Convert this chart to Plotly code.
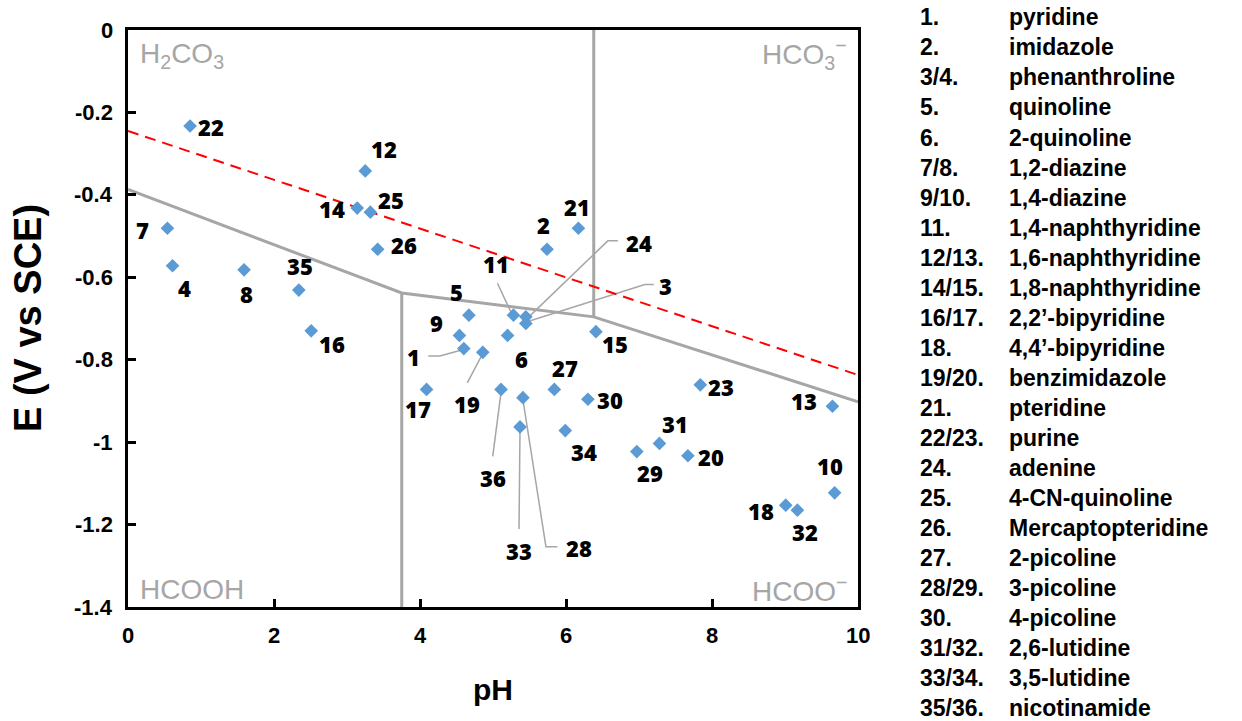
import plotly.graph_objects as go

# ---- data -------------------------------------------------------------
ids = [str(i) for i in range(1, 37)]
ph = [4.60, 5.74, 5.45, 0.61, 4.67, 5.20, 0.54, 1.59, 4.54, 9.68,
      5.28, 3.25, 9.65, 3.14, 6.41, 2.51, 4.09, 9.01, 4.86, 7.67,
      6.17, 0.85, 7.84, 5.45, 3.32, 3.42, 5.84, 5.41, 6.97, 6.30,
      7.28, 9.17, 5.37, 5.99, 2.34, 5.11]
potential = [-0.773, -0.532, -0.712, -0.572, -0.692, -0.741, -0.481, -0.582, -0.741, -1.123,
             -0.692, -0.342, -0.913, -0.432, -0.732, -0.730, -0.872, -1.153, -0.782, -1.033,
             -0.481, -0.233, -0.861, -0.696, -0.442, -0.532, -0.872, -0.892, -1.023, -0.896,
             -1.003, -1.165, -0.963, -0.972, -0.631, -0.872]

# formate / CO2 equilibrium boundaries
boundary_ph = [0.0, 3.75, 6.38, 10.0]
boundary_e = [-0.387, -0.638, -0.696, -0.902]
pka1_ph, pka1_e = 3.75, [-0.638, -1.4]
pka2_ph, pka2_e = 6.38, [-0.696, 0.0]
rhe_ph = [0.0, 10.0]
rhe_e = [-0.245, -0.837]

legend_nums = ["1.", "2.", "3/4.", "5.", "6.", "7/8.", "9/10.", "11.", "12/13.", "14/15.",
               "16/17.", "18.", "19/20.", "21.", "22/23.", "24.", "25.", "26.", "27.",
               "28/29.", "30.", "31/32.", "33/34.", "35/36."]
legend_names = ["pyridine", "imidazole", "phenanthroline", "quinoline", "2-quinoline",
                "1,2-diazine", "1,4-diazine", "1,4-naphthyridine", "1,6-naphthyridine",
                "1,8-naphthyridine", "2,2\u2019-bipyridine", "4,4\u2019-bipyridine",
                "benzimidazole", "pteridine", "purine", "adenine", "4-CN-quinoline",
                "Mercaptopteridine", "2-picoline", "3-picoline", "4-picoline",
                "2,6-lutidine", "3,5-lutidine", "nicotinamide"]

x_ticks = [0, 2, 4, 6, 8, 10]
x_tick_text = ["0", "2", "4", "6", "8", "10"]
y_ticks = [0, -0.2, -0.4, -0.6, -0.8, -1.0, -1.2, -1.4]
y_tick_text = ["0", "-0.2", "-0.4", "-0.6", "-0.8", "-1", "-1.2", "-1.4"]

# ---- geometry -----------------------------------------------------------
W, H = 1242, 721
ML, MR, MT, MB = 128, 384, 30, 114
PW, PH = W - ML - MR, H - MT - MB

GRAY = "#A6A6A6"
BLUE = "#5B9BD5"
LBL_FONT = dict(family="Open Sans", size=22, color="black", weight=800)

# label placement: screen offset (dx, dy down) from each marker
label_offset = {
    "1": (-50, 8), "2": (-4, -24), "3": (140, -37), "4": (12, 22), "5": (-12, -23),
    "6": (14, 24), "7": (-25, 2), "8": (2, 24), "9": (-23, -12), "10": (-5, -27),
    "11": (-17, -51), "12": (19, -22), "13": (-28, -5), "14": (-25, 1), "15": (19, 12),
    "16": (21, 13), "17": (-9, 20), "18": (-25, 6), "19": (-16, 52), "20": (23, 1),
    "21": (-1, -21), "22": (21, 1), "23": (21, 2), "24": (113, -74), "25": (21, -12),
    "26": (26, -4), "27": (11, -21), "28": (56, 150), "29": (13, 21), "30": (22, 1),
    "31": (16, -19), "32": (8, 22), "33": (-1, 124), "34": (19, 21), "35": (1, -24),
    "36": (-8, 89),
}
# leader lines: screen offsets (dx, dy down) from the marker
leaders = {
    "1": [(-2, 1.5), (-24, 7.5), (-35.5, 7.5)],
    "19": [(-1, 3), (-15.5, 30.5)],
    "11": [(-2, -2), (-16, -32)],
    "24": [(3, 0), (82, -76), (92, -76)],
    "3": [(2, -2), (119, -39), (128, -39)],
    "36": [(0, 3), (-8.3, 67)],
    "33": [(0, 2), (-1, 102)],
    "28": [(0, 2), (23, 149), (34.5, 149)],
}

fig = go.Figure()

# boundary lines
fig.add_trace(go.Scatter(x=boundary_ph, y=boundary_e, mode="lines",
                         line=dict(color=GRAY, width=3), hoverinfo="skip"))
fig.add_trace(go.Scatter(x=[pka1_ph, pka1_ph], y=pka1_e, mode="lines",
                         line=dict(color=GRAY, width=3), hoverinfo="skip"))
fig.add_trace(go.Scatter(x=[pka2_ph, pka2_ph], y=pka2_e, mode="lines",
                         line=dict(color=GRAY, width=3), hoverinfo="skip"))
fig.add_trace(go.Scatter(x=rhe_ph, y=rhe_e, mode="lines",
                         line=dict(color="#FF0000", width=2, dash="11px,7px"),
                         hoverinfo="skip"))

# leader lines (pixel-sized paths anchored at each marker)
idx = {k: i for i, k in enumerate(ids)}
for key, pts in leaders.items():
    i = idx[key]
    path = "M" + " L".join(f"{dx},{-dy}" for dx, dy in pts)
    fig.add_shape(type="path", xref="x", yref="y", xsizemode="pixel", ysizemode="pixel",
                  xanchor=ph[i], yanchor=potential[i], path=path,
                  line=dict(color=GRAY, width=1.5), layer="below")

# compounds
fig.add_trace(go.Scatter(x=ph, y=potential, mode="markers", text=ids,
                         marker=dict(symbol="diamond", size=10.5, color=BLUE,
                                     line=dict(width=0))))

annotations = []
for i, k in enumerate(ids):
    dx, dy = label_offset[k]
    annotations.append(dict(x=ph[i], y=potential[i], xref="x", yref="y", text=k,
                            showarrow=False, xshift=dx, yshift=-dy, font=LBL_FONT,
                            xanchor="center", yanchor="middle"))


def px(xp):
    return (xp - ML) / PW


def py(yp):
    return (MT + PH - yp) / PH


# tick labels (bold)
TICK = dict(family="Liberation Sans", size=22, color="black", weight="bold")
for v, t in zip(x_ticks, x_tick_text):
    annotations.append(dict(x=v, y=py(635), xref="x", yref="paper", text=t,
                            showarrow=False, xanchor="center", yanchor="middle", font=TICK))
for v, t in zip(y_ticks, y_tick_text):
    annotations.append(dict(x=px(115), y=v, xref="paper", yref="y", text=t,
                            showarrow=False, xanchor="right", yanchor="middle", font=TICK))

# species regions
CORNER = dict(family="Liberation Sans", size=28, color=GRAY)
annotations += [
    dict(x=px(138), y=py(56), xref="paper", yref="paper", text="H<sub>2</sub>CO<sub>3</sub>",
         showarrow=False, xanchor="left", yanchor="middle", font=CORNER),
    dict(x=px(849), y=py(54), xref="paper", yref="paper", text="HCO<sub>3</sub><sup>\u2212</sup>",
         showarrow=False, xanchor="right", yanchor="middle", font=CORNER),
    dict(x=px(138), y=py(589), xref="paper", yref="paper", text="HCOOH",
         showarrow=False, xanchor="left", yanchor="middle", font=CORNER),
    dict(x=px(849), y=py(589), xref="paper", yref="paper", text="HCOO<sup>\u2212</sup>",
         showarrow=False, xanchor="right", yanchor="middle", font=CORNER),
]

# axis titles
annotations += [
    dict(x=px(493), y=py(689), xref="paper", yref="paper", text="pH", showarrow=False,
         xanchor="center", yanchor="middle",
         font=dict(family="Liberation Sans", size=30, color="black", weight="bold")),
    dict(x=px(28), y=py(318), xref="paper", yref="paper", text="E (V vs SCE)",
         showarrow=False, textangle=-90, xanchor="center", yanchor="middle",
         font=dict(family="Liberation Sans", size=38, color="black", weight="bold")),
]

# compound key
KEY = dict(family="Liberation Sans", size=23, color="black", weight="bold")
for r, (n, name) in enumerate(zip(legend_nums, legend_names)):
    yc = 17.5 + r * 30.0
    annotations.append(dict(x=px(918), y=py(yc), xref="paper", yref="paper", text=n,
                            showarrow=False, xanchor="left", yanchor="middle", font=KEY))
    annotations.append(dict(x=px(1007), y=py(yc), xref="paper", yref="paper", text=name,
                            showarrow=False, xanchor="left", yanchor="middle", font=KEY))

fig.update_layout(
    width=W, height=H,
    margin=dict(l=ML, r=MR, t=MT, b=MB, autoexpand=False),
    paper_bgcolor="white", plot_bgcolor="white",
    showlegend=False,
    annotations=annotations,
    xaxis=dict(range=[0, 10], tickvals=x_ticks, showticklabels=False,
               ticks="inside", ticklen=8, tickwidth=3, tickcolor="black",
               showline=True, linecolor="black", linewidth=3, mirror=True,
               showgrid=False, zeroline=False),
    yaxis=dict(range=[-1.4, 0], tickvals=y_ticks, showticklabels=False,
               ticks="inside", ticklen=8, tickwidth=3, tickcolor="black",
               showline=True, linecolor="black", linewidth=3, mirror=True,
               showgrid=False, zeroline=False),
)

fig.write_html("out.html")
